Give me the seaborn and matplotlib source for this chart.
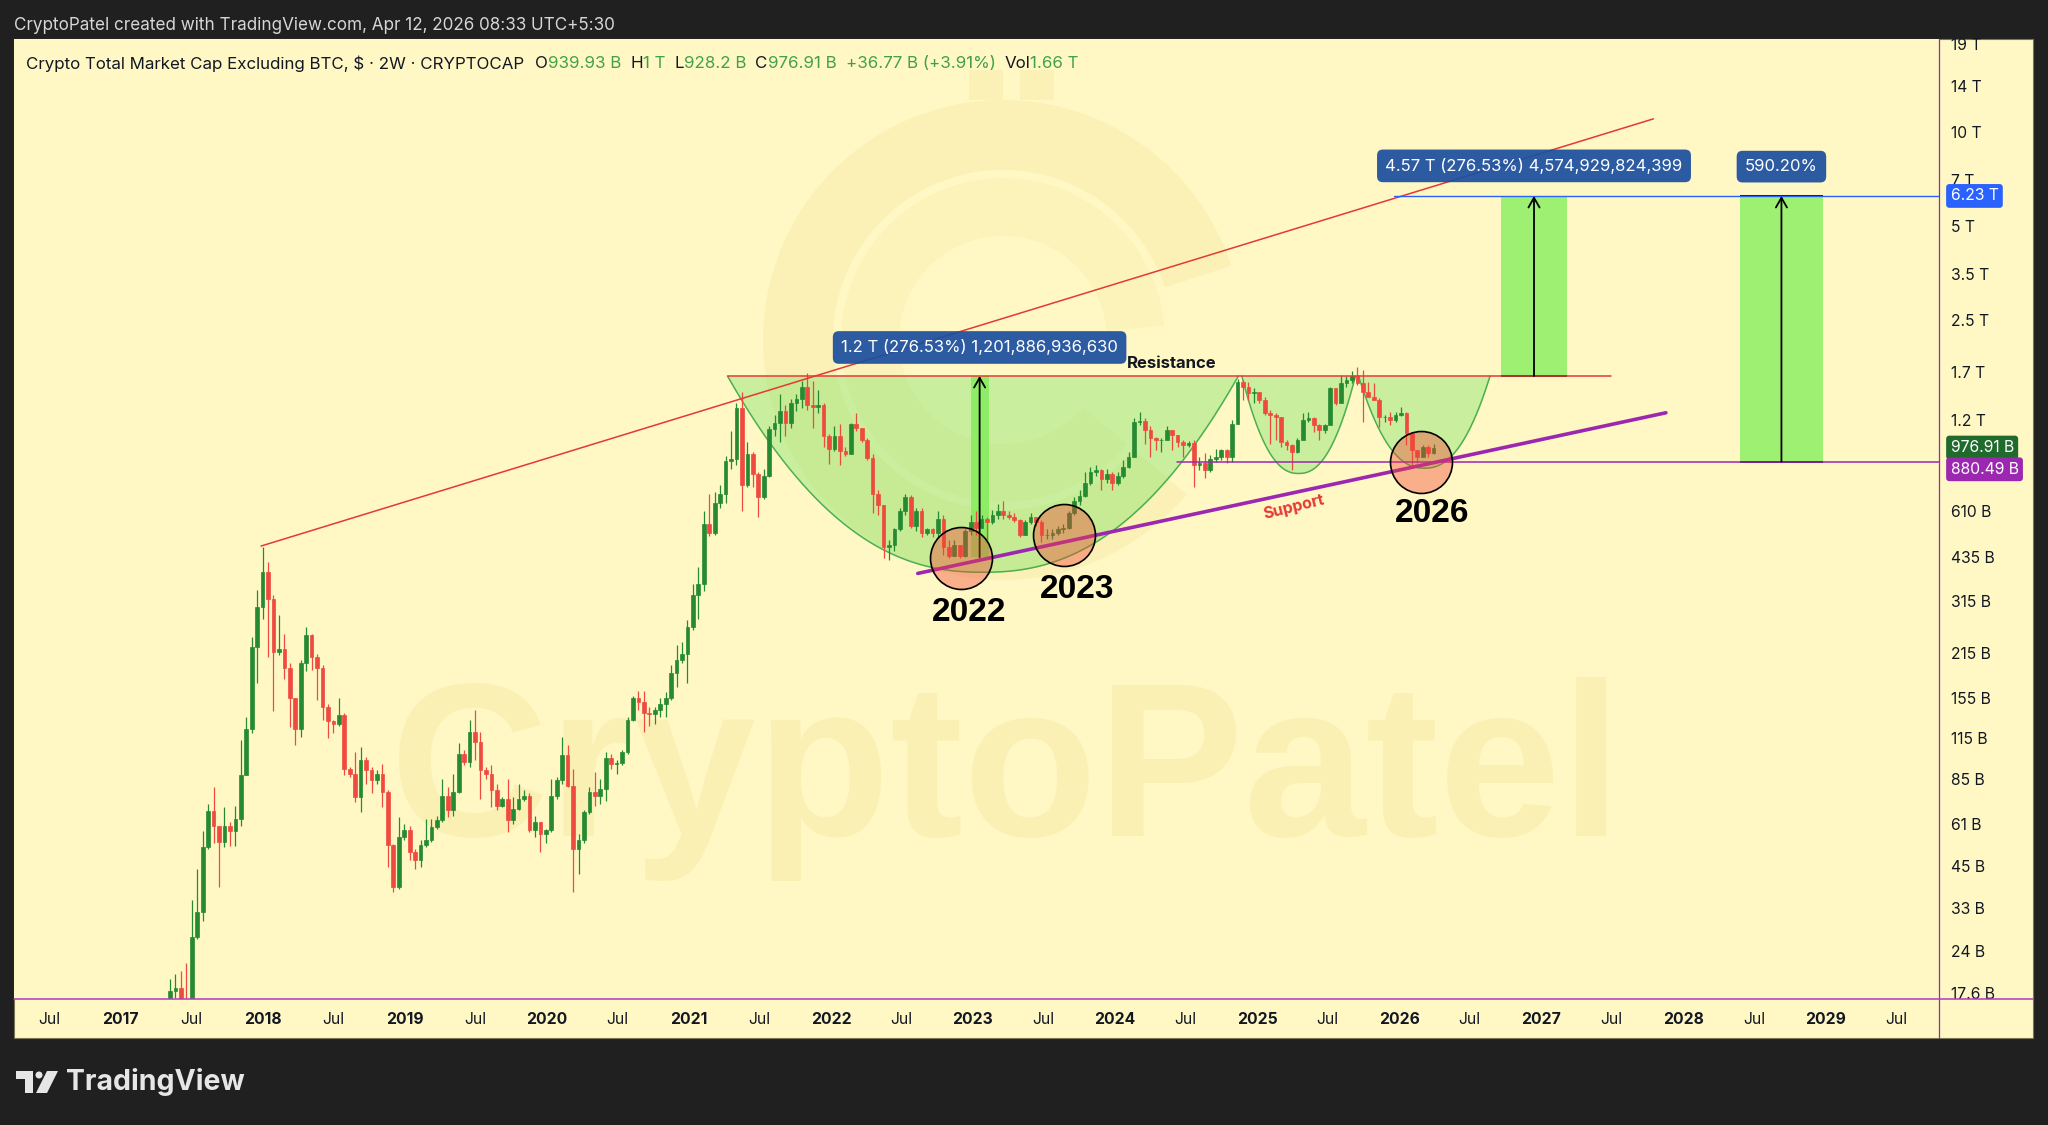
import numpy as np
import pandas as pd
import seaborn as sns
import matplotlib
matplotlib.use("Agg")
import matplotlib.pyplot as plt
import matplotlib.dates as mdates
from matplotlib.patches import Rectangle, Wedge, Polygon, Circle
from matplotlib.lines import Line2D

# 2W candles of Crypto Total Market Cap Excluding BTC (billions USD)
first_open = 17.0
last_bar = "2026-03-30"
closes = [
    17.9, 18.3, 16.6, 16.4, 26.5, 32.0, 51.7, 67.0, 60.4, 53.5,
    60.4, 58.0, 63.5, 87.6, 123, 225, 302, 392, 321, 217,
    222, 192, 154, 123, 200, 245, 209, 192, 145, 130,
    128, 136, 91.8, 88.5, 74.4, 97.7, 90.7, 84.2, 88.5, 77.4,
    52.2, 38.3, 55.5, 58.3, 49.6, 46.7, 52.2, 54.2, 59.7, 62.7,
    75.2, 67.5, 77.4, 102.6, 96.5, 120.3, 111.8, 90.7, 88.5, 78.3,
    70.0, 73.5, 62.7, 68.3, 73.5, 75.2, 58.3, 61.9, 56.7, 58.3,
    75.2, 84.2, 101.4, 81.0, 50.8, 54.2, 66.7, 77.4, 75.2, 79.2,
    99.0, 95.3, 95.8, 104, 131, 154, 150, 138, 137, 141,
    148, 154, 186, 205, 214, 261, 330, 357,
    555, 522, 650, 694, 884, 897, 1307, 742, 929, 804,
    677, 795, 1117, 1172, 1274, 1172, 1361, 1398, 1531, 1333,
    1317, 1333, 1060, 966, 1060, 955, 929, 1161, 1130, 1033,
    905, 694, 640, 469, 475, 535, 610, 677, 548, 610,
    522, 535, 522, 578, 469, 439, 475, 439, 528, 564,
    541, 578, 564, 594, 610, 594, 586, 571, 514,
    564, 586, 564, 514, 514, 522, 535, 541, 602,
    660, 686, 752, 815, 828, 775, 804, 752, 790,
    848, 913, 1180, 1187, 1110, 1045, 1031, 1036, 1110, 1071,
    1019, 994, 1010, 858, 869, 827, 901, 913, 958, 913,
    1166, 1585, 1528, 1457, 1473, 1386, 1256, 1240, 1225, 1019,
    994, 947, 1031, 1195, 1210, 1152, 1110, 1152, 1510, 1352,
    1566, 1604, 1652, 1566, 1473, 1421, 1386, 1225, 1225, 1195,
    1240, 1256, 1084, 958, 913, 982, 939.93, 976.91,
]
highs = [
    19.5, 20.3, 20.7, 21.9, 35.0, 43.9, 58.0, 70.9, 80.2, 60.4,
    69.0, 62.0, 70.0, 113, 134, 242, 342, 469, 420, 330,
    284, 248, 200, 154, 205, 261, 248, 214, 197, 148,
    131, 154, 138, 93.0, 104, 107.6, 100, 93.0, 90.7, 95.3,
    78.3, 52.9, 64.2, 61.2, 60.4, 50.8, 54.2, 63.5, 63.5, 65.0,
    85.3, 80.2, 88.5, 110.6, 105, 131, 141, 120.3, 93.0, 94.0,
    82.0, 74.4, 85.3, 74.4, 82.0, 78.3, 76.5, 65.0, 59.7, 59.0,
    85.3, 86.5, 116, 109.4, 91.8, 56.9, 67.5, 80.2, 89.6, 85.3,
    104, 102.6, 97.7, 105, 134, 157, 163, 163, 145, 145,
    154, 161, 197, 229, 233, 274, 357, 405,
    610, 694, 705, 740, 917, 1100, 1361, 1467, 1015, 943,
    815, 836, 1146, 1243, 1453, 1333, 1398, 1453, 1590, 1690,
    1590, 1491, 1361, 1076, 1146, 1161, 979, 1172, 1258, 1117,
    1046, 929, 716, 640, 493, 541, 628, 694, 688, 628,
    628, 541, 541, 610, 594, 493, 493, 457, 535, 594,
    610, 594, 586, 618, 644, 660, 610, 602, 578,
    571, 602, 578, 571, 535, 535, 548, 555, 610,
    677, 716, 815, 845, 858, 836, 836, 815, 815,
    891, 947, 1210, 1270, 1210, 1145, 1057, 1050, 1145, 1110,
    1071, 1031, 1025, 1031, 913, 936, 924, 970, 970, 970,
    1195, 1614, 1604, 1585, 1510, 1473, 1421, 1288, 1256, 1225,
    1031, 1006, 1045, 1256, 1270, 1225, 1166, 1166, 1528, 1491,
    1666, 1652, 1717, 1763, 1724, 1585, 1566, 1404, 1240, 1270,
    1270, 1318, 1270, 1057, 958, 994, 994, 1000,
]
lows = [
    16.6, 17.0, 16.4, 15.8, 16.2, 26.2, 30.0, 51.0, 53.0, 38.3,
    51.7, 52.0, 52.0, 60.4, 94.0, 119, 172, 277, 209, 140,
    212, 178, 125, 109, 116, 188, 190, 152, 131, 115,
    119, 126, 87.6, 86.5, 71.7, 66.7, 82.0, 76.5, 82.0, 69.2,
    44.5, 37.0, 37.9, 54.2, 46.7, 43.9, 44.5, 51.7, 53.5, 59.0,
    62.0, 64.2, 65.0, 76.5, 94.0, 93.0, 97.7, 73.5, 85.3, 69.2,
    67.5, 69.2, 57.6, 61.2, 67.5, 72.6, 57.6, 55.5, 49.6, 53.0,
    57.6, 73.5, 82.0, 80.2, 37.0, 42.4, 53.0, 65.8, 70.0, 70.9,
    72.6, 91.8, 88.5, 94.0, 102.6, 130, 141, 120.3, 126, 128,
    134, 134, 152, 168, 200, 172, 255, 277,
    340, 510, 514, 628, 650, 836, 858, 610, 733, 733,
    585, 668, 785, 1060, 1018, 1060, 1130, 1274, 1307, 1290,
    1130, 1258, 979, 868, 955, 858, 917, 929, 1103, 1018,
    893, 602, 594, 433, 427, 455, 528, 594, 541, 528,
    507, 514, 507, 507, 444, 432, 438, 432, 435, 514,
    514, 541, 495, 555, 578, 578, 578, 564, 507,
    514, 555, 548, 487, 500, 500, 514, 522, 535,
    594, 640, 677, 742, 795, 716, 752, 716, 740,
    778, 838, 913, 1152, 1006, 913, 958, 947, 1031, 958,
    982, 913, 978, 732, 827, 778, 817, 880, 891, 869,
    880, 1180, 1386, 1386, 1352, 1352, 1240, 1006, 1031, 982,
    958, 827, 936, 1045, 1180, 1097, 1031, 1084, 1152, 1337,
    1352, 1528, 1566, 1548, 1180, 1421, 1386, 1137, 1180, 1152,
    1180, 1234, 994, 858, 869, 913, 913, 928.2,
]

y_ticks = [17.6, 24, 33, 45, 61, 85, 115, 155, 215, 315, 435, 610,
           1200, 1700, 2500, 3500, 5000, 7000, 10000, 14000, 19000]
y_tick_labels = ["17.6 B", "24 B", "33 B", "45 B", "61 B", "85 B", "115 B", "155 B",
                 "215 B", "315 B", "435 B", "610 B", "1.2 T", "1.7 T", "2.5 T",
                 "3.5 T", "5 T", "7 T", "10 T", "14 T", "19 T"]

resistance = 1654.4
target = 6229.4
support_level = 880.49
last_close = 976.91

trend_x = ["2017-12-28", "2027-10-16"]
trend_y = [473, 10990]
support_x = ["2022-08-12", "2027-11-17"]
support_y = [386.6, 1262]
resistance_x = ["2021-04-10", "2027-06-28"]
support_level_start = "2024-06-08"
target_start = "2025-12-17"

cup_left = ["2021-04-10", "2024-11-22", "2025-09-18"]
cup_right = ["2024-11-13", "2025-09-10", "2026-08-22"]
cup_bottom = [390, 807, 839]

circle_x = ["2022-12-01", "2023-08-22", "2026-02-25"]
circle_y = [434, 513, 880]
year_tags = ["2022", "2023", "2026"]
year_tag_x = ["2022-12-22", "2023-09-26", "2026-03-25"]
year_tag_y = [289, 344, 602]

measure_left = ["2022-12-27", "2026-09-20", "2028-05-26"]
measure_right = ["2023-02-10", "2027-03-09", "2028-12-24"]
measure_arrow = ["2023-01-18", "2026-12-13", "2028-09-09"]
measure_low = [435, 1654.4, 880.49]
measure_high = [1654.4, 6229.4, 6229.4]
measure_text = ["1.2 T (276.53%) 1,201,886,936,630",
                "4.57 T (276.53%) 4,574,929,824,399", "590.20%"]
measure_text_y = [2041, 7773, 7730]

DARK = "#202020"
CREAM = "#fff8c5"
INK = "#131722"
GREEN = "#43a047"
UP = "#268a33"
DOWN = "#ef4a3f"
PURPLE = "#9c27b0"
BLUE = "#2962ff"
BOXBLUE = "#1c4f9f"
WM = (0.93, 0.85, 0.50, 0.24)
WM_RING = (0.93, 0.85, 0.50, 0.20)
WM_INNER = (0.93, 0.85, 0.50, 0.14)

sns.set_style("white")
plt.rcParams["font.family"] = ["Inter", "DejaVu Sans"]

W, H = 2048, 1125
fig = plt.figure(figsize=(W / 100, H / 100), dpi=100, facecolor=DARK)


def fx(x):
    return x / W


def fy(y):
    return 1 - y / H


def d(s):
    return mdates.date2num(pd.Timestamp(s))


# chart frame (price pane + both axis strips), kept behind the axes
fig.patches.append(Rectangle((fx(14), fy(1038)), (2033 - 14) / W, (1038 - 39) / H,
                             transform=fig.transFigure, facecolor=CREAM,
                             edgecolor="#7a7658", lw=0.8, zorder=-5))

ax = fig.add_axes([fx(14), fy(999), (1939 - 14) / W, (999 - 39) / H])
ax.set_zorder(1)
ax.set_facecolor(CREAM)
ax.set_yscale("log")

# watermark: coin ring, bars and name
cx_in, cy_in = 10.03, 7.85
ax.add_patch(Wedge((cx_in, cy_in), 2.40, 18, 320, width=0.70, transform=fig.dpi_scale_trans,
                   facecolor=WM_RING, lw=0, zorder=0.5))
ax.add_patch(Wedge((cx_in, cy_in), 1.62, 5, 320, width=0.58, transform=fig.dpi_scale_trans,
                   facecolor=WM_INNER, lw=0, zorder=0.5))
for bx in (9.69, 10.20):
    ax.add_patch(Rectangle((bx, 10.25), 0.34, 0.30, transform=fig.dpi_scale_trans,
                           facecolor=WM_RING, lw=0, zorder=0.5))
ax.text(fx(390), fy(836), "CryptoPatel", transform=fig.transFigure, fontsize=158,
        fontweight="bold", family="Liberation Sans", color=WM, va="baseline",
        ha="left", zorder=0.6)

# cup arcs
top_log = np.log10(resistance)
for l, r, b in zip(cup_left, cup_right, cup_bottom):
    x0, x1 = d(l), d(r)
    u = np.linspace(-1, 1, 300)
    xs = (x0 + x1) / 2 + u * (x1 - x0) / 2
    ys = 10 ** (top_log - (top_log - np.log10(b)) * (1 - np.abs(u) ** 2.3))
    ax.fill_between(xs, ys, resistance, color=(0.40, 0.87, 0.33, 0.35), lw=0, zorder=1)
    ax.plot(xs, ys, color="#4caf50", lw=1.1, zorder=1.5)

# measurement rectangles
for l, r, a, lo, hi in zip(measure_left, measure_right, measure_arrow, measure_low, measure_high):
    ax.add_patch(Rectangle((d(l), lo), d(r) - d(l), hi - lo,
                           facecolor=(0.46, 0.93, 0.31, 0.70), lw=0, zorder=1.2))
ax.hlines([measure_low[1], measure_low[2], measure_high[2]],
          [d(measure_left[1]), d(measure_left[2]), d(measure_left[2])],
          [d(measure_right[1]), d(measure_right[2]), d(measure_right[2])],
          color="black", lw=1.3, zorder=4)

# candles
dates = pd.date_range(end=last_bar, periods=len(closes), freq="14D")
xd = mdates.date2num(dates)
opens = np.array([first_open] + closes[:-1])
cl = np.array(closes)
hi = np.maximum(np.array(highs), np.maximum(opens, cl))
lo = np.minimum(np.array(lows), np.minimum(opens, cl))
col = np.where(cl >= opens, UP, DOWN)
ax.vlines(xd, lo, hi, colors=col, lw=0.9, zorder=3)
ax.bar(xd, np.abs(cl - opens), bottom=np.minimum(opens, cl), width=9.5,
       color=col, edgecolor=col, lw=0.5, zorder=3.1)

# lines
lines = pd.DataFrame({
    "x": [d(trend_x[0]), d(trend_x[1]), d(resistance_x[0]), d(resistance_x[1]),
          d(support_x[0]), d(support_x[1]), d(support_level_start), d("2029-10-19"),
          d(target_start), d("2029-10-19")],
    "y": [trend_y[0], trend_y[1], resistance, resistance, support_y[0], support_y[1],
          support_level, support_level, target, target],
    "name": ["trend", "trend", "res", "res", "sup", "sup", "lvl", "lvl", "tgt", "tgt"],
})
styles = {"trend": ("#e53935", 1.1, 4), "res": ("#e53935", 1.1, 4),
          "sup": ("#9c27b0", 2.6, 4.2), "lvl": ("#9c27b0", 1.1, 4),
          "tgt": (BLUE, 1.0, 4)}
for name, (c, lw, z) in styles.items():
    sns.lineplot(data=lines[lines["name"] == name], x="x", y="y", ax=ax, color=c,
                 linewidth=lw, zorder=z, legend=False, estimator=None, sort=False)

# arrows
for a, lo_, hi_ in zip(measure_arrow, measure_low, measure_high):
    ax.annotate("", xy=(d(a), hi_), xytext=(d(a), lo_),
                arrowprops=dict(arrowstyle="->,head_length=0.7,head_width=0.4",
                                color="black", lw=1.3, shrinkA=0, shrinkB=0), zorder=5)

# circles
ax.scatter([d(x) for x in circle_x], circle_y, s=1990, facecolors=(0.957, 0.263, 0.212, 0.40),
           edgecolors="black", linewidths=1.2, zorder=5)

for t, x, y in zip(year_tags, year_tag_x, year_tag_y):
    ax.text(d(x), y, t, ha="center", va="center", fontsize=24, fontweight="bold",
            family="Liberation Sans", color="black", zorder=6)

ax.text(d("2024-05-26"), 1819, "Resistance", ha="center", va="center", fontsize=12,
        fontweight="bold", color=INK, zorder=6)
ax.text(d("2025-04-04"), 631, "Support", ha="center", va="center", fontsize=11.5,
        fontweight="bold", color="#e53935", rotation=14, rotation_mode="anchor", zorder=6)

for t, x, y in zip(measure_text, measure_arrow, measure_text_y):
    ax.text(d(x), y, t, ha="center", va="center", fontsize=12, color="white", zorder=7,
            bbox=dict(boxstyle="round,pad=0.5,rounding_size=0.35", fc=BOXBLUE, ec="none",
                      alpha=0.93))

# axes
ax.set_xlim(d("2016-04-02"), d("2029-10-19"))
ax.set_ylim(16.84, 19785)
ax.set_xlabel("")
ax.set_ylabel("")
ax.grid(False)
for s in ax.spines.values():
    s.set_visible(False)

ax.yaxis.tick_right()
ax.yaxis.set_minor_locator(matplotlib.ticker.NullLocator())
ax.set_yticks(y_ticks)
ax.set_yticklabels(y_tick_labels)
ax.tick_params(axis="y", length=0, pad=8.6, labelsize=11.3, labelcolor=INK)

xt, xl = [], []
for yr in range(2016, 2030):
    xt.append(d(f"{yr}-07-01"))
    xl.append("Jul")
    if yr < 2029:
        xt.append(d(f"{yr + 1}-01-01"))
        xl.append(str(yr + 1))
ax.set_xticks(xt)
ax.set_xticklabels(xl)
ax.tick_params(axis="x", length=0, pad=9.0, labelsize=11.3, labelcolor=INK)
for lab in ax.get_xticklabels():
    if lab.get_text() != "Jul":
        lab.set_fontweight("bold")

# price-scale badges
badges = [(target, "6.23 T", BLUE, 0), (last_close, "976.91 B", "#1f6b2c", 0),
          (support_level, "880.49 B", PURPLE, -5.5)]
for v, t, c, off in badges:
    ax.annotate(t, xy=(1, v), xycoords=("axes fraction", "data"), xytext=(8.3, off),
                textcoords="offset points", ha="left", va="center", fontsize=11.3,
                color="white", zorder=9, annotation_clip=False,
                bbox=dict(boxstyle="round,pad=0.28,rounding_size=0.2", fc=c, ec="none"))

# pane separators
fig.add_artist(Line2D([fx(1939), fx(1939)], [fy(39), fy(1038)], transform=fig.transFigure,
                      color=PURPLE, lw=0.9, zorder=5))
fig.add_artist(Line2D([fx(14), fx(2033)], [fy(999), fy(999)], transform=fig.transFigure,
                      color="#b03cc0", lw=1.1, zorder=5))

# header texts
fig.text(fx(14), fy(25), "CryptoPatel created with TradingView.com, Apr 12, 2026 08:33 UTC+5:30",
         color="#d6d6d6", fontsize=12.3, va="center", ha="left")

renderer = fig.canvas.get_renderer()
pieces = [("Crypto Total Market Cap Excluding BTC, \\$ · 2W · CRYPTOCAP", INK, 11),
          ("O", INK, 0), ("939.93 B", GREEN, 9), ("H", INK, 0), ("1 T", GREEN, 9),
          ("L", INK, 0), ("928.2 B", GREEN, 9), ("C", INK, 0), ("976.91 B", GREEN, 9),
          ("+36.77 B (+3.91%)", GREEN, 9), ("Vol", INK, 0), ("1.66 T", GREEN, 0)]
xc = 26
for s, c, gap in pieces:
    t = fig.text(fx(xc), fy(64), s, color=c, fontsize=12.2, va="center", ha="left", zorder=6)
    xc += t.get_window_extent(renderer).width + gap

# TradingView logo
logo = "#e6e6e6"
fig.patches.append(Rectangle((fx(16), fy(1079)), 17 / W, 8 / H, transform=fig.transFigure,
                             facecolor=logo, lw=0))
fig.patches.append(Rectangle((fx(25), fy(1093)), 8 / W, 22 / H, transform=fig.transFigure,
                             facecolor=logo, lw=0))
fig.patches.append(Polygon([(fx(47), fy(1071)), (fx(58), fy(1071)), (fx(47), fy(1093)),
                            (fx(36), fy(1093))], closed=True, transform=fig.transFigure,
                           facecolor=logo, lw=0))
fig.add_artist(Circle((0.39, 0.50), 0.035, transform=fig.dpi_scale_trans, facecolor=logo, lw=0))
fig.text(fx(66), fy(1082), "TradingView", color=logo, fontsize=20.5, fontweight="bold",
         va="center", ha="left")

fig.savefig("out.png", dpi=100, facecolor=fig.get_facecolor())
